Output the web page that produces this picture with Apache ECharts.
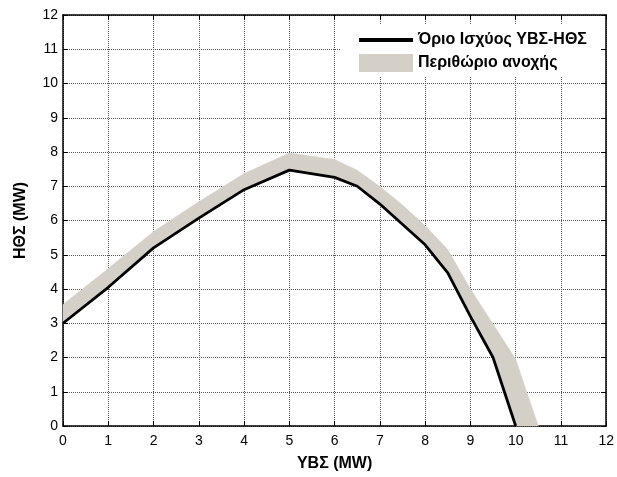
<!DOCTYPE html>
<html>
<head>
<meta charset="utf-8">
<script src="https://cdn.jsdelivr.net/npm/echarts@6/dist/echarts.min.js"></script>
<style>
  html, body { margin: 0; padding: 0; background: #fff; }
  #chart { width: 617px; height: 477px; }
</style>
</head>
<body>
<div id="chart"></div>
<script>
// Power limit curve (YBS output vs HThS output, MW)
const limitX = [0, 1, 2, 3, 4, 5, 6, 6.5, 7, 8, 8.5, 9, 9.5, 10];
const limitY = [3.0, 4.05, 5.2, 6.07, 6.9, 7.47, 7.26, 7.0, 6.48, 5.29, 4.47, 3.2, 2.0, 0];

// Upper edge of the tolerance margin band
const marginX = [0, 1, 2, 3, 4, 5, 6, 6.5, 7, 7.5, 8, 8.5, 9, 9.5, 10, 10.5];
const marginY = [3.55, 4.6, 5.68, 6.55, 7.37, 7.97, 7.78, 7.47, 6.99, 6.45, 5.85, 5.15, 4.0, 2.98, 1.95, 0];

// Axis ticks
const xTicks = [0, 1, 2, 3, 4, 5, 6, 7, 8, 9, 10, 11, 12];
const yTicks = [0, 1, 2, 3, 4, 5, 6, 7, 8, 9, 10, 11, 12];

const seriesNames = ['Όριο Ισχύος ΥΒΣ-ΗΘΣ', 'Περιθώριο ανοχής'];
const bandColor = '#d4d0c8';
const FONT = 'Liberation Sans, Arial, sans-serif';

const limitData = limitX.map((x, i) => [x, limitY[i]]);
const marginData = marginX.map((x, i) => [x, marginY[i]]);

const chart = echarts.init(document.getElementById('chart'), null, { renderer: 'canvas' });

const axisCommon = {
  type: 'value',
  min: 0,
  max: 12,
  interval: 1,
  axisLine: { show: true, onZero: false, lineStyle: { color: '#000', width: 1.5 } },
  axisTick: { show: true, inside: true, length: 5, lineStyle: { color: '#000', width: 1 } },
  splitLine: { show: false }
};

chart.setOption({
  animation: false,
  backgroundColor: '#fff',
  grid: { left: 63, right: 8, top: 15, bottom: 50, containLabel: false },
  legend: {
    orient: 'vertical',
    left: 340,
    top: 25,
    width: 263,
    padding: [7, 14, 4, 19],
    itemGap: 6,
    itemWidth: 54,
    itemHeight: 18,
    backgroundColor: '#fff',
    textStyle: { color: '#000', fontSize: 16, fontWeight: 'bold', fontFamily: FONT },
    data: [
      { name: seriesNames[0], icon: 'path://M0,7 L54,7 L54,11 L0,11 Z', itemStyle: { color: '#000' } },
      { name: seriesNames[1], icon: 'rect', itemStyle: { color: bandColor } }
    ]
  },
  xAxis: [
    Object.assign({}, axisCommon, {
      position: 'bottom',
      name: 'ΥΒΣ (MW)',
      nameLocation: 'middle',
      nameGap: 30,
      nameTextStyle: { color: '#000', fontSize: 16, fontWeight: 'bold', fontFamily: FONT },
      axisLabel: {
        color: '#000', fontSize: 14, fontFamily: FONT, margin: 8,
        formatter: v => (xTicks.includes(v) ? String(v) : '')
      },
      splitLine: { show: true, lineStyle: { color: '#555', width: 1, type: [1, 1] } }
    }),
    Object.assign({}, axisCommon, {
      position: 'top',
      axisLabel: { show: false }
    })
  ],
  yAxis: [
    Object.assign({}, axisCommon, {
      position: 'left',
      name: 'ΗΘΣ (MW)',
      nameLocation: 'middle',
      nameGap: 34,
      nameRotate: 90,
      nameTextStyle: { color: '#000', fontSize: 16, fontWeight: 'bold', fontFamily: FONT },
      axisLabel: {
        color: '#000', fontSize: 14, fontFamily: FONT, margin: 5,
        formatter: v => (yTicks.includes(v) ? String(v) : '')
      },
      splitLine: { show: true, lineStyle: { color: '#555', width: 1, type: [1, 1] } }
    }),
    Object.assign({}, axisCommon, {
      position: 'right',
      axisLabel: { show: false }
    })
  ],
  series: [
    {
      // Band between the limit curve and the margin edge, drawn as one polygon
      name: seriesNames[1],
      type: 'custom',
      xAxisIndex: 0,
      yAxisIndex: 0,
      z: 2,
      data: [0],
      renderItem: function (params, api) {
        const upper = marginData.map(p => api.coord(p));
        const lower = limitData.slice().reverse().map(p => api.coord(p));
        return {
          type: 'polygon',
          shape: { points: upper.concat(lower) },
          style: { fill: bandColor, stroke: bandColor, lineWidth: 0.5 }
        };
      },
      itemStyle: { color: bandColor }
    },
    {
      name: seriesNames[0],
      type: 'line',
      xAxisIndex: 0,
      yAxisIndex: 0,
      z: 3,
      data: limitData,
      showSymbol: false,
      symbol: 'none',
      lineStyle: { color: '#000', width: 2.8 },
      itemStyle: { color: '#000' }
    }
  ]
});
</script>
</body>
</html>
